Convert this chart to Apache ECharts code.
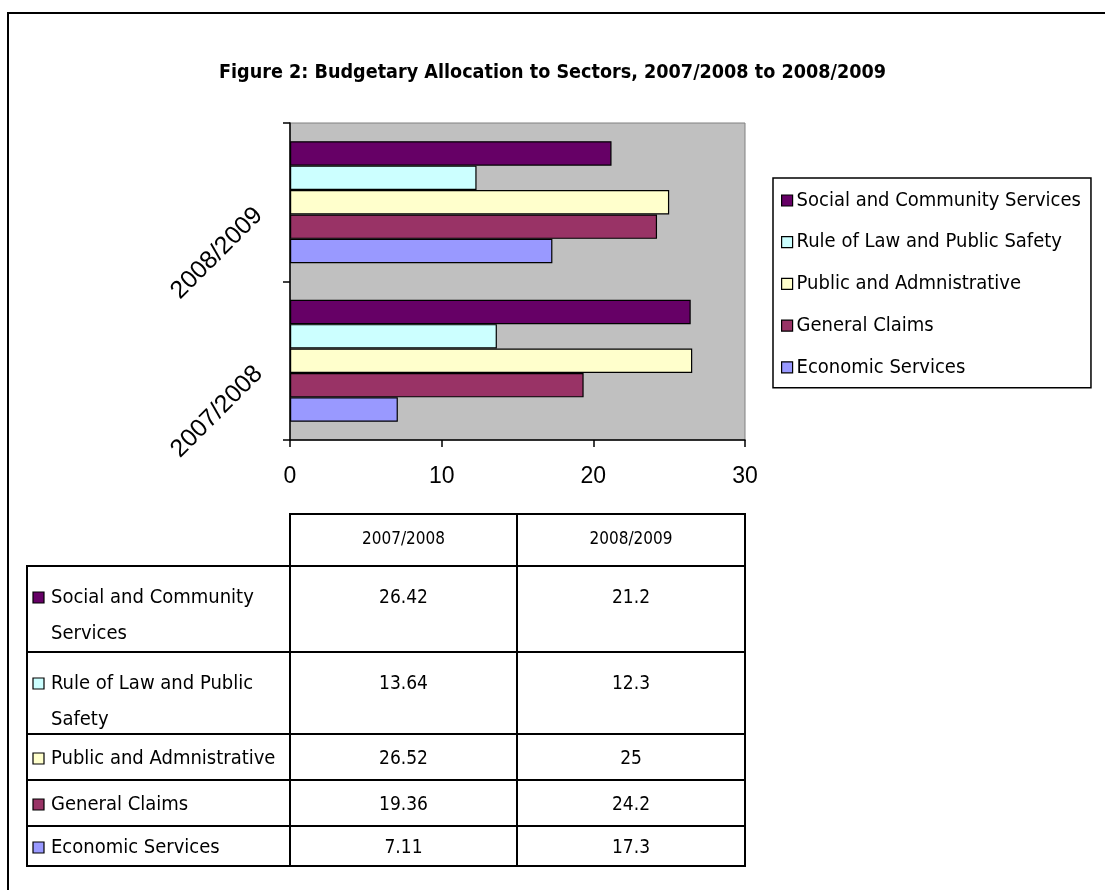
<!DOCTYPE html>
<html>
<head>
<meta charset="utf-8">
<script src="https://cdn.jsdelivr.net/npm/echarts@6/dist/echarts.min.js"></script>
<style>
html,body{margin:0;padding:0;background:#fff;}
#chart{width:1105px;height:890px;}
</style>
</head>
<body>
<div id="chart"></div>
<script>
// ---- data ----
const titleText = 'Figure 2: Budgetary Allocation to Sectors, 2007/2008 to 2008/2009';
const categories = ['2007/2008', '2008/2009'];
const seriesNames = ['Social and Community Services', 'Rule of Law and Public Safety', 'Public and Admnistrative', 'General Claims', 'Economic Services'];
const socialValues = [26.42, 21.2];
const ruleValues = [13.64, 12.3];
const publicValues = [26.52, 25];
const generalValues = [19.36, 24.2];
const economicValues = [7.11, 17.3];
const xTicks = [0, 10, 20, 30];
const tableRowLabels = [['Social and Community', 'Services'], ['Rule of Law and Public', 'Safety'], ['Public and Admnistrative'], ['General Claims'], ['Economic Services']];

// ---- styles ----
const colors = ['#660066', '#CCFFFF', '#FFFFCC', '#993366', '#9999FF'];
const narrow = "'Liberation Sans Narrow', 'Arial Narrow', 'DejaVu Sans Condensed', sans-serif";
const regular = "'Liberation Sans', Arial, sans-serif";
const allValues = [socialValues, ruleValues, publicValues, generalValues, economicValues];

const chart = echarts.init(document.getElementById('chart'), null, {renderer: 'canvas'});

// table layout
const colX = [27, 290, 517, 745];
const headerTop = 514, headerBottom = 566;
const rowEdges = [566, 652, 734, 780, 826, 866];
const graphics = [];
// outer frame
graphics.push({type: 'rect', shape: {x: 8, y: 13, width: 1300, height: 1000}, style: {fill: 'none', stroke: '#000', lineWidth: 2}, silent: true});
// header
for (let c = 1; c < 3; c++) {
  graphics.push({type: 'rect', shape: {x: colX[c], y: headerTop, width: colX[c + 1] - colX[c], height: headerBottom - headerTop}, style: {fill: '#fff', stroke: '#000', lineWidth: 2}, silent: true});
  graphics.push({type: 'text', x: (colX[c] + colX[c + 1]) / 2, y: (headerTop + headerBottom) / 2, style: {text: categories[c - 1], font: '17px ' + narrow, fill: '#000', align: 'center', verticalAlign: 'middle'}, silent: true});
}
for (let r = 0; r < seriesNames.length; r++) {
  const top = rowEdges[r], bottom = rowEdges[r + 1];
  const lines = tableRowLabels[r];
  const firstY = lines.length > 1 ? top + 32 : (top + bottom) / 2 + 2;
  for (let c = 0; c < 3; c++) {
    graphics.push({type: 'rect', shape: {x: colX[c], y: top, width: colX[c + 1] - colX[c], height: bottom - top}, style: {fill: '#fff', stroke: '#000', lineWidth: 2}, silent: true});
  }
  graphics.push({type: 'rect', shape: {x: 33, y: firstY - 6, width: 11, height: 11}, style: {fill: colors[r], stroke: '#000', lineWidth: 1.2}, silent: true});
  lines.forEach((ln, i) => {
    graphics.push({type: 'text', x: 51, y: firstY + i * 36, style: {text: ln, font: '20px ' + narrow, fill: '#000', align: 'left', verticalAlign: 'middle'}, silent: true});
  });
  for (let c = 0; c < 2; c++) {
    graphics.push({type: 'text', x: (colX[c + 1] + colX[c + 2]) / 2, y: firstY, style: {text: String(allValues[r][c]), font: '19px ' + narrow, fill: '#000', align: 'center', verticalAlign: 'middle'}, silent: true});
  }
}

const option = {
  animation: false,
  backgroundColor: '#fff',
  title: {
    text: titleText,
    left: 'center',
    top: 58,
    textStyle: {fontFamily: narrow, fontWeight: 'bold', fontSize: 19.6, color: '#000'}
  },
  legend: {
    orient: 'vertical',
    left: 773,
    top: 178,
    data: seriesNames,
    backgroundColor: '#fff',
    borderColor: '#000',
    borderWidth: 1.5,
    borderRadius: 0,
    padding: [12, 10, 10, 8],
    itemWidth: 11,
    itemHeight: 11,
    itemGap: 20.7,
    icon: 'rect',
    itemStyle: {borderColor: '#000', borderWidth: 1.2},
    textStyle: {fontFamily: narrow, fontSize: 20, color: '#000', lineHeight: 21, padding: [0, 0, 0, -1]},
    selectedMode: false
  },
  grid: {
    left: 290, top: 123, right: 360, bottom: 450,
    show: true, backgroundColor: '#C0C0C0', borderColor: '#808080', borderWidth: 1
  },
  xAxis: {
    type: 'value',
    min: xTicks[0], max: xTicks[xTicks.length - 1], interval: 10,
    axisLine: {show: true, lineStyle: {color: '#000', width: 1.5}},
    axisTick: {show: true, length: 7, lineStyle: {color: '#000', width: 1.5}},
    splitLine: {show: false},
    axisLabel: {fontFamily: regular, fontSize: 23, color: '#000', margin: 25}
  },
  yAxis: {
    type: 'category',
    data: categories,
    axisLine: {show: true, lineStyle: {color: '#000', width: 1.5}},
    axisTick: {show: true, length: 7, alignWithLabel: false, lineStyle: {color: '#000', width: 1.5}},
    axisLabel: {fontFamily: regular, fontSize: 25, color: '#000', rotate: 45, margin: 22, padding: [19, 13, 0, 0]},
    splitLine: {show: false}
  },
  series: seriesNames.map((name, i) => ({
    type: 'bar',
    name: name,
    data: allValues[i],
    barGap: '0%',
    barCategoryGap: '23%',
    itemStyle: {color: colors[i], borderColor: '#000', borderWidth: 1.2}
  })),
  graphic: graphics
};
chart.setOption(option);
</script>
</body>
</html>
